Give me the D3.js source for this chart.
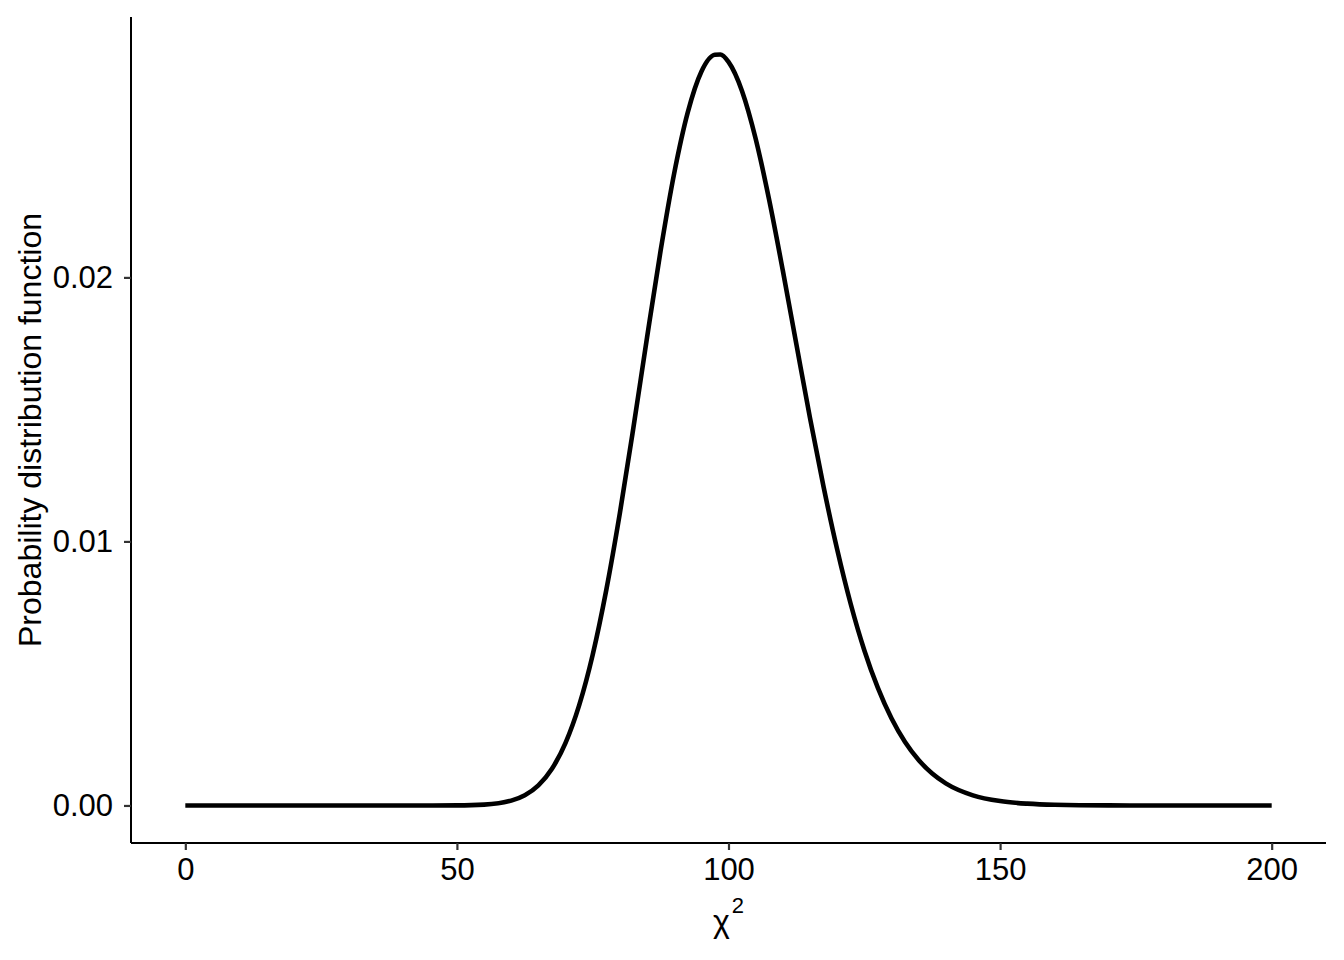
<!DOCTYPE html>
<html>
<head>
<meta charset="utf-8">
<script src="https://cdn.jsdelivr.net/npm/d3@7"></script>
<style>
  body { margin: 0; background: #fff; }
  text { font-family: "Liberation Sans", Arial, sans-serif; }
</style>
</head>
<body>
<svg id="chart" width="1344" height="960"></svg>
<script>
// chi-square values (x) and density (y)
const chiX = [0, 10, 20, 30, 40, 45, 50, 55, 60, 62.5, 65, 67.5, 70, 72.5, 75, 77.5, 80, 82.5, 85, 87.5, 90, 92.5, 95, 97.5, 98.5, 100,
  102.5, 105, 107.5, 110, 112.5, 115, 117.5, 120, 122.5, 125, 127.5, 130, 132.5, 135, 137.5, 140, 145, 150, 155, 160, 170, 180, 190, 200]
const density = [0, 0, 0, 0, 0, 0.0000002, 0.0000036, 0.0000316, 0.000184, 0.000389, 0.000763, 0.00139, 0.00237, 0.00379, 0.00571,
  0.00816, 0.01107, 0.01432, 0.01772, 0.02101, 0.02394, 0.02625, 0.02779, 0.02843, 0.02844, 0.02816,
  0.02705, 0.02525, 0.02292, 0.02026, 0.01746, 0.01468, 0.01207, 0.0097, 0.00763, 0.00588, 0.00445, 0.0033, 0.0024, 0.00172,
  0.00121, 0.000838, 0.000384, 0.000166, 0.000068, 0.000026, 0.000003, 0, 0, 0]
const xTicks = [0, 50, 100, 150, 200]
const yTicks = [0, 0.01, 0.02]

const svg = d3.select('#chart')
const mLeft = 131
const mRight = 1326
const mTop = 17
const mBottom = 843

const x = d3.scaleLinear().domain([-10, 210]).range([mLeft, mRight])
const yMax = d3.max(density)
const pad = yMax * 0.05
const y = d3.scaleLinear().domain([-pad, yMax + pad]).range([mBottom, mTop])

// axes
const xAxis = svg.append('g')
  .attr('transform', 'translate(0,' + mBottom + ')')
  .call(d3.axisBottom(x).tickValues(xTicks).tickSize(7).tickPadding(8).tickFormat(d3.format('d')))
const yAxis = svg.append('g')
  .attr('transform', 'translate(' + mLeft + ',0)')
  .call(d3.axisLeft(y).tickValues(yTicks).tickSize(7).tickPadding(11).tickFormat(d3.format('.2f')))

;[xAxis, yAxis].forEach(function (g) {
  g.attr('font-size', null).attr('font-family', null)
  g.select('.domain').attr('stroke', '#000').attr('stroke-width', 2)
  g.selectAll('.tick line').attr('stroke', '#333').attr('stroke-width', 2.2)
  g.selectAll('.tick text').attr('fill', '#000').style('font-size', '31px')
})
xAxis.select('.domain').attr('d', 'M' + mLeft + ',0H' + mRight)
yAxis.select('.domain').attr('d', 'M0,' + mTop + 'V' + mBottom)

// curve
const pts = chiX.map(function (d, i) { return [d, density[i]] })
svg.append('path')
  .datum(pts)
  .attr('fill', 'none')
  .attr('stroke', '#000')
  .attr('stroke-width', 4.6)
  .attr('stroke-linejoin', 'round')
  .attr('d', d3.line()
    .x(function (d) { return x(d[0]) })
    .y(function (d) { return y(d[1]) })
    .curve(d3.curveMonotoneX))

// axis titles
const xt = svg.append('text')
  .attr('x', (mLeft + mRight) / 2)
  .attr('y', 932)
  .attr('text-anchor', 'middle')
  .style('font-size', '32px')
xt.append('tspan').text('χ')
xt.append('tspan').attr('dy', -19).attr('dx', 2).attr('font-size', 22).style('font-size', '22px').text('2')

svg.append('text')
  .attr('transform', 'translate(41,' + (mTop + mBottom) / 2 + ') rotate(-90)')
  .attr('text-anchor', 'middle')
  .style('font-size', '32px')
  .text('Probability distribution function')
</script>
</body>
</html>
